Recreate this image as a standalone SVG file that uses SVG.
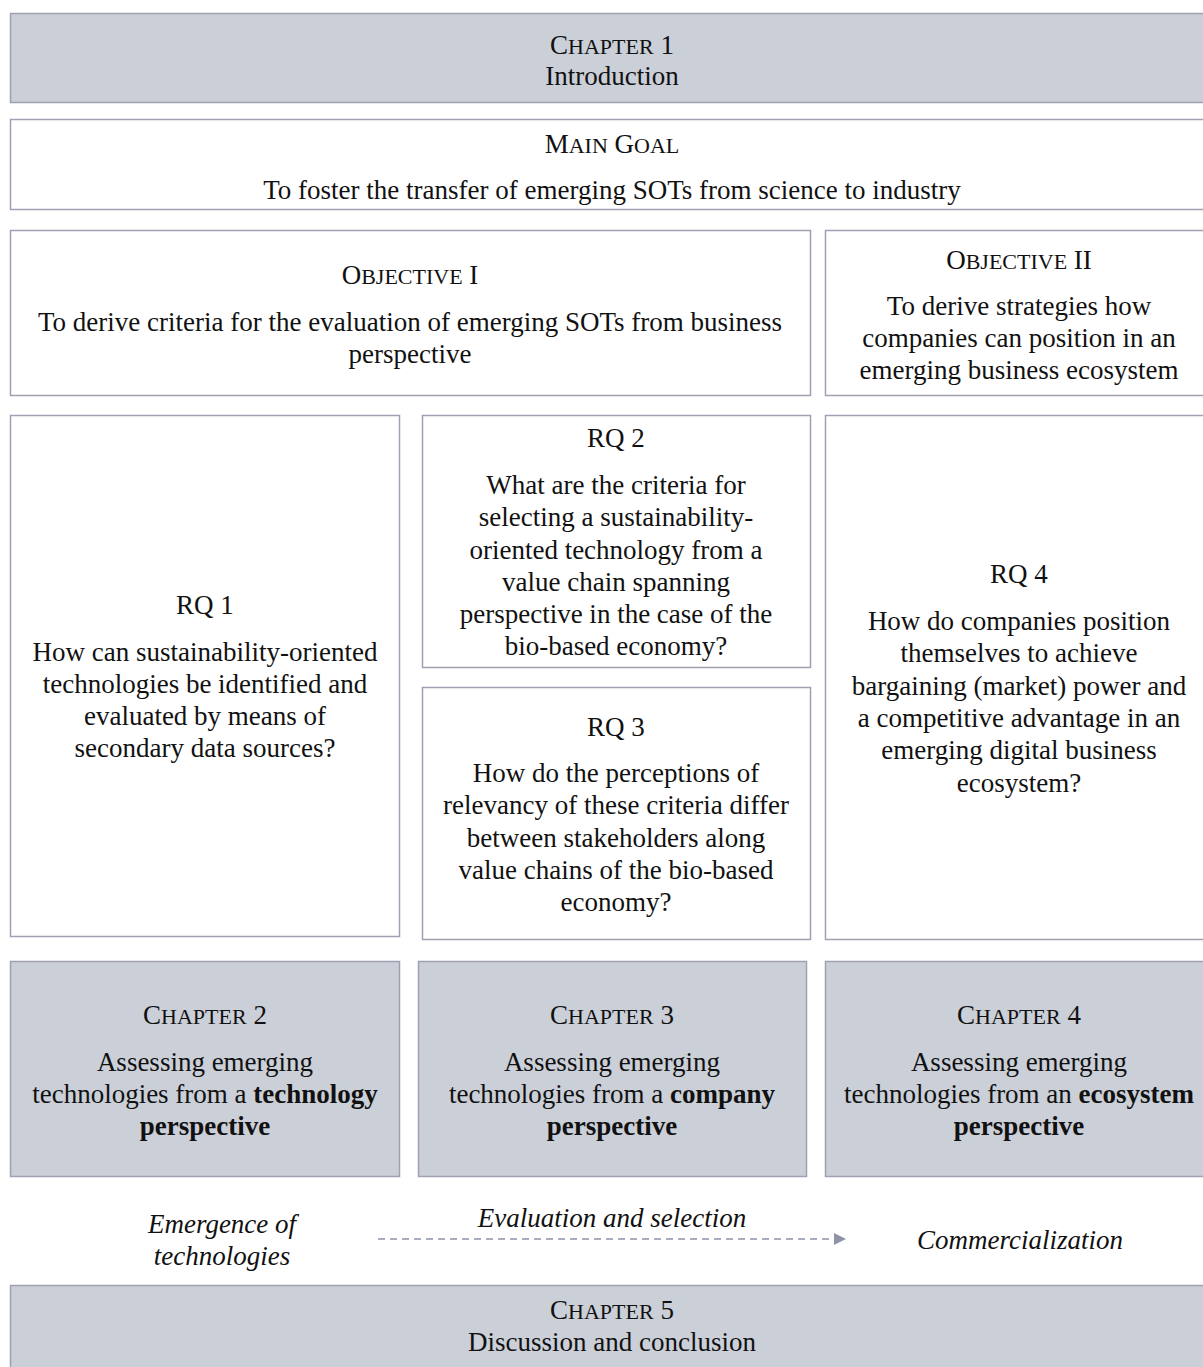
<svg xmlns="http://www.w3.org/2000/svg" width="1203" height="1367" viewBox="0 0 1203 1367">
  <style>
    .box { fill: #ffffff; stroke: #9ea1b3; stroke-width: 1.5; }
    .chap { fill: #cbcfd8; stroke: #9ea1b3; stroke-width: 1.5; }
    text { font-family: "Liberation Serif", "Times New Roman", serif; font-size: 27px; fill: #111111; text-anchor: middle; }
    .sc { font-size: 22px; }
    .b { font-weight: bold; }
    .it { font-style: italic; }
    .flow { stroke: #8e93a8; stroke-width: 1.5; stroke-dasharray: 7 5; fill: none; }
  </style>
  <defs>
    <marker id="arrowhead" viewBox="0 0 12 12" refX="0" refY="6" markerWidth="12" markerHeight="12" markerUnits="userSpaceOnUse" orient="auto">
      <path d="M0,0 L12,6 L0,12 Z" fill="#8e93a8"/>
    </marker>
  </defs>

  <!-- Chapter 1 -->
  <g id="chapter1">
    <rect class="chap" x="10.5" y="13.5" width="1204" height="89"/>
    <text x="612" y="54">C<tspan class="sc">HAPTER</tspan> 1</text>
    <text x="612" y="85">Introduction</text>
  </g>

  <!-- Main goal -->
  <g id="main-goal">
    <rect class="box" x="10.5" y="119.5" width="1204" height="90"/>
    <text x="612" y="153">M<tspan class="sc">AIN</tspan> G<tspan class="sc">OAL</tspan></text>
    <text x="612" y="199">To foster the transfer of emerging SOTs from science to industry</text>
  </g>

  <!-- Objective I -->
  <g id="objective1">
    <rect class="box" x="10.5" y="230.5" width="800" height="165"/>
    <text x="410" y="284">O<tspan class="sc">BJECTIVE</tspan> I</text>
    <text x="410" y="331">To derive criteria for the evaluation of emerging SOTs from business</text>
    <text x="410" y="363">perspective</text>
  </g>

  <!-- Objective II -->
  <g id="objective2">
    <rect class="box" x="825.5" y="230.5" width="389" height="165"/>
    <text x="1019" y="269">O<tspan class="sc">BJECTIVE</tspan> II</text>
    <text x="1019" y="315">To derive strategies how</text>
    <text x="1019" y="347">companies can position in an</text>
    <text x="1019" y="379">emerging business ecosystem</text>
  </g>

  <!-- RQ 1 -->
  <g id="rq1">
    <rect class="box" x="10.5" y="415.5" width="389" height="521"/>
    <text x="205" y="614">RQ 1</text>
    <text x="205" y="661">How can sustainability-oriented</text>
    <text x="205" y="693">technologies be identified and</text>
    <text x="205" y="725">evaluated by means of</text>
    <text x="205" y="757">secondary data sources?</text>
  </g>

  <!-- RQ 2 -->
  <g id="rq2">
    <rect class="box" x="422.5" y="415.5" width="388" height="252"/>
    <text x="616" y="447">RQ 2</text>
    <text x="616" y="494">What are the criteria for</text>
    <text x="616" y="526">selecting a sustainability-</text>
    <text x="616" y="559">oriented technology from a</text>
    <text x="616" y="591">value chain spanning</text>
    <text x="616" y="623">perspective in the case of the</text>
    <text x="616" y="655">bio-based economy?</text>
  </g>

  <!-- RQ 3 -->
  <g id="rq3">
    <rect class="box" x="422.5" y="687.5" width="388" height="252"/>
    <text x="616" y="736">RQ 3</text>
    <text x="616" y="782">How do the perceptions of</text>
    <text x="616" y="814">relevancy of these criteria differ</text>
    <text x="616" y="847">between stakeholders along</text>
    <text x="616" y="879">value chains of the bio-based</text>
    <text x="616" y="911">economy?</text>
  </g>

  <!-- RQ 4 -->
  <g id="rq4">
    <rect class="box" x="825.5" y="415.5" width="389" height="524"/>
    <text x="1019" y="583">RQ 4</text>
    <text x="1019" y="630">How do companies position</text>
    <text x="1019" y="662">themselves to achieve</text>
    <text x="1019" y="695">bargaining (market) power and</text>
    <text x="1019" y="727">a competitive advantage in an</text>
    <text x="1019" y="759">emerging digital business</text>
    <text x="1019" y="792">ecosystem?</text>
  </g>

  <!-- Chapter 2 -->
  <g id="chapter2">
    <rect class="chap" x="10.5" y="961.5" width="389" height="215"/>
    <text x="205" y="1024">C<tspan class="sc">HAPTER</tspan> 2</text>
    <text x="205" y="1071">Assessing emerging</text>
    <text x="205" y="1103">technologies from a <tspan class="b">technology</tspan></text>
    <text x="205" y="1135" class="b">perspective</text>
  </g>

  <!-- Chapter 3 -->
  <g id="chapter3">
    <rect class="chap" x="418.5" y="961.5" width="388" height="215"/>
    <text x="612" y="1024">C<tspan class="sc">HAPTER</tspan> 3</text>
    <text x="612" y="1071">Assessing emerging</text>
    <text x="612" y="1103">technologies from a <tspan class="b">company</tspan></text>
    <text x="612" y="1135" class="b">perspective</text>
  </g>

  <!-- Chapter 4 -->
  <g id="chapter4">
    <rect class="chap" x="825.5" y="961.5" width="389" height="215"/>
    <text x="1019" y="1024">C<tspan class="sc">HAPTER</tspan> 4</text>
    <text x="1019" y="1071">Assessing emerging</text>
    <text x="1019" y="1103">technologies from an <tspan class="b">ecosystem</tspan></text>
    <text x="1019" y="1135" class="b">perspective</text>
  </g>

  <!-- Phase labels along the flow -->
  <g id="phase-emergence">
    <text class="it" x="222" y="1233">Emergence of</text>
    <text class="it" x="222" y="1265">technologies</text>
  </g>
  <g id="phase-evaluation">
    <text class="it" x="612" y="1227">Evaluation and selection</text>
  </g>
  <g id="phase-commercialization">
    <text class="it" x="1020" y="1249">Commercialization</text>
  </g>

  <!-- Connectors -->
  <g id="connectors">
    <line class="flow" x1="378" y1="1239" x2="834" y2="1239" marker-end="url(#arrowhead)"/>
  </g>

  <!-- Chapter 5 -->
  <g id="chapter5">
    <rect class="chap" x="10.5" y="1285.5" width="1204" height="90"/>
    <text x="612" y="1319">C<tspan class="sc">HAPTER</tspan> 5</text>
    <text x="612" y="1351">Discussion and conclusion</text>
  </g>
</svg>
